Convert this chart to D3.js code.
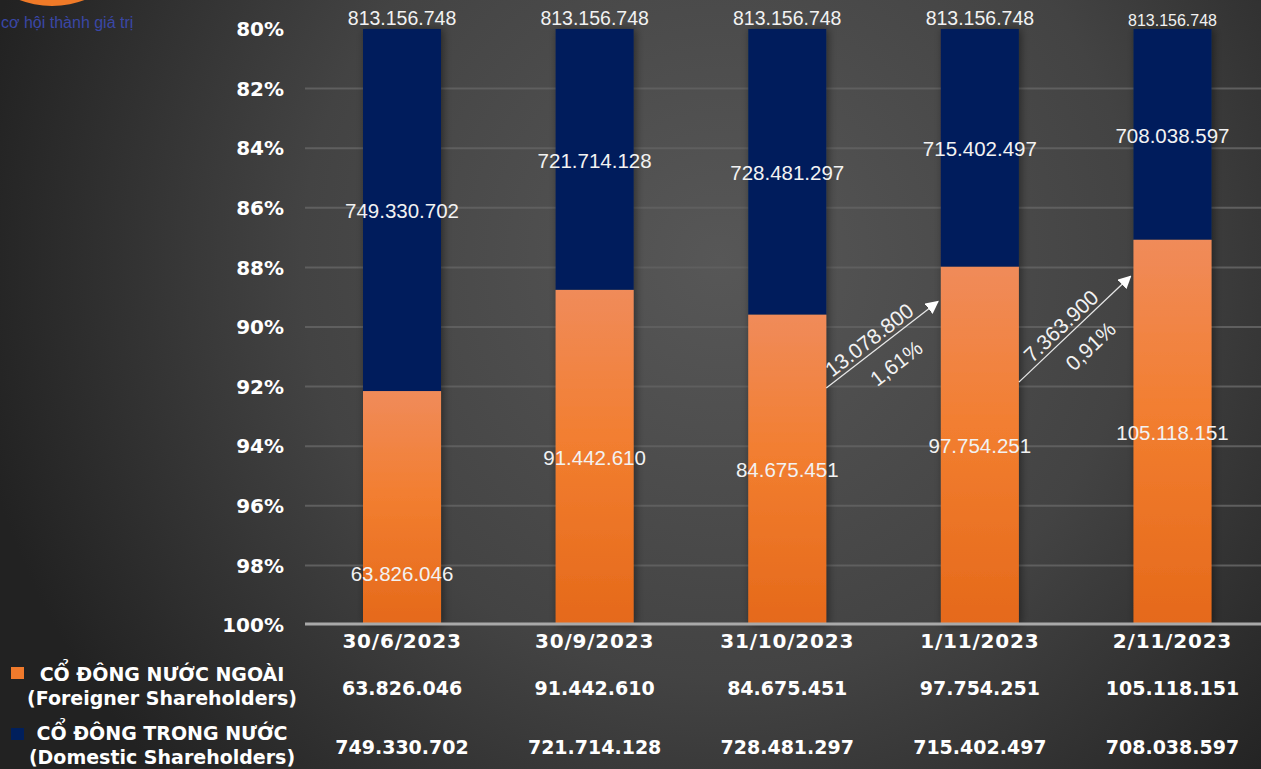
<!DOCTYPE html>
<html>
<head>
<meta charset="utf-8">
<script src="https://cdn.jsdelivr.net/npm/d3@7"></script>
<style>
  html, body { margin: 0; padding: 0; overflow: hidden; background: #333; }
</style>
</head>
<body>
<div id="chart"></div>
<script>
// Shareholder structure, foreign vs domestic
const dates = ["30/6/2023", "30/9/2023", "31/10/2023", "1/11/2023", "2/11/2023"];
const foreign = [63826046, 91442610, 84675451, 97754251, 105118151];
const domestic = [749330702, 721714128, 728481297, 715402497, 708038597];
const totalShares = 813156748; // printed above every bar
const yTicks = [80, 82, 84, 86, 88, 90, 92, 94, 96, 98, 100];
// change arrows between dates (axis % where the arrow starts / ends)
const arrows = [
    { from: 2, to: 3, y0: 92.05, y1: 89.15 },
    { from: 3, to: 4, y0: 91.85, y1: 88.3 }
];

const width = 1261;
const height = 769;

const vn = d3.formatLocale({ decimal: ",", thousands: ".", grouping: [3], currency: ["", ""] });
const fmtInt = vn.format(",d");
const fmtPct = vn.format(".2f");

const rows = dates.map((d, i) => ({
    date: d,
    domestic: domestic[i],
    foreign: foreign[i]
}));

const stack = d3.stack()
    .keys(["domestic", "foreign"])
    .offset(d3.stackOffsetExpand);
const series = stack(rows);

const x = d3.scaleBand()
    .domain(dates)
    .range([305.7, 1268.8])
    .paddingInner(0.595)
    .paddingOuter(0.2975);

// reversed percent axis: 80% at top, 100% at bottom
const y = d3.scaleLinear()
    .domain([80, 100])
    .range([29, 625])
    .clamp(true);

const svg = d3.select("#chart").append("svg")
    .attr("width", width)
    .attr("height", height)
    .style("display", "block");

const defs = svg.append("defs");

const bg = defs.append("radialGradient")
    .attr("id", "bg")
    .attr("gradientUnits", "userSpaceOnUse")
    .attr("cx", 720).attr("cy", 260).attr("r", 760);
bg.append("stop").attr("offset", "0%").attr("stop-color", "#575757");
bg.append("stop").attr("offset", "55%").attr("stop-color", "#434343");
bg.append("stop").attr("offset", "100%").attr("stop-color", "#222222");

const og = defs.append("linearGradient")
    .attr("id", "orange")
    .attr("x1", 0).attr("y1", 0).attr("x2", 0).attr("y2", 1);
og.append("stop").attr("offset", "0%").attr("stop-color", "#f08b5a");
og.append("stop").attr("offset", "45%").attr("stop-color", "#f27e30");
og.append("stop").attr("offset", "100%").attr("stop-color", "#e5691a");

const shadow = defs.append("filter")
    .attr("id", "shadow")
    .attr("x", "-30%").attr("y", "-5%").attr("width", "160%").attr("height", "110%");
shadow.append("feDropShadow")
    .attr("dx", 2).attr("dy", 0)
    .attr("stdDeviation", 4)
    .attr("flood-color", "#000")
    .attr("flood-opacity", 0.45);

const arrowHead = defs.append("marker")
    .attr("id", "arrowhead")
    .attr("viewBox", "0 0 10 10")
    .attr("refX", 9).attr("refY", 5)
    .attr("markerWidth", 13).attr("markerHeight", 13)
    .attr("markerUnits", "userSpaceOnUse")
    .attr("orient", "auto");
arrowHead.append("path")
    .attr("d", "M0,0 L10,5 L0,10 Z")
    .attr("fill", "#ffffff");

svg.append("rect")
    .attr("width", width)
    .attr("height", height)
    .attr("fill", "url(#bg)");

// logo remnant top-left
svg.append("circle")
    .attr("cx", 52).attr("cy", -85).attr("r", 91)
    .attr("fill", "#f07a28");
svg.append("text")
    .attr("x", 1).attr("y", 28)
    .style("font-family", "Liberation Sans, Arial, sans-serif")
    .style("font-size", "16px")
    .style("fill", "#3a47a6")
    .text("cơ hội thành giá trị");

// gridlines
svg.append("g")
    .selectAll("line")
    .data(yTicks.filter(t => t > 80 && t < 100))
    .join("line")
    .attr("x1", 305).attr("x2", width)
    .attr("y1", d => y(d)).attr("y2", d => y(d))
    .attr("stroke", "#5f5f5f")
    .attr("stroke-width", 2);

// y tick labels
svg.append("g")
    .selectAll("text")
    .data(yTicks)
    .join("text")
    .attr("x", 284)
    .attr("y", d => y(d))
    .attr("dy", "0.36em")
    .attr("text-anchor", "end")
    .style("font-family", "DejaVu Sans, Verdana, sans-serif")
    .style("font-weight", "bold")
    .style("font-size", "20px")
    .style("fill", "#ffffff")
    .text(d => d + "%");

// bars
const fills = { domestic: "#001f5c", foreign: "url(#orange)" };
const barG = svg.append("g").attr("filter", "url(#shadow)");
series.forEach(s => {
    barG.append("g")
        .selectAll("rect")
        .data(s)
        .join("rect")
        .attr("x", d => x(d.data.date))
        .attr("width", x.bandwidth())
        .attr("y", d => y(d[0] * 100))
        .attr("height", d => y(d[1] * 100) - y(d[0] * 100))
        .attr("fill", fills[s.key]);
});

// baseline
svg.append("line")
    .attr("x1", 305).attr("x2", width)
    .attr("y1", y(100) - 1).attr("y2", y(100) - 1)
    .attr("stroke", "#a9a9a9")
    .attr("stroke-width", 3);

const labelFont = "Liberation Sans, Arial, sans-serif";

// totals above bars
svg.append("g")
    .selectAll("text")
    .data(rows)
    .join("text")
    .attr("x", d => x(d.date) + x.bandwidth() / 2)
    .attr("y", (d, i) => i === 4 ? 20 : 18)
    .attr("dy", "0.36em")
    .attr("text-anchor", "middle")
    .style("font-family", labelFont)
    .style("font-size", (d, i) => i === 4 ? "16px" : "19.5px")
    .style("fill", "#f2f2f2")
    .text(() => fmtInt(totalShares));

// segment labels
const domS = series[0];
const forS = series[1];
svg.append("g")
    .selectAll("text")
    .data(domS)
    .join("text")
    .attr("x", d => x(d.data.date) + x.bandwidth() / 2)
    .attr("y", d => (y(d[0] * 100) + y(d[1] * 100)) / 2 + 1)
    .attr("dy", "0.36em")
    .attr("text-anchor", "middle")
    .style("font-family", labelFont)
    .style("font-size", "20.5px")
    .style("fill", "#f2f2f2")
    .text(d => fmtInt(d.data.domestic));

svg.append("g")
    .selectAll("text")
    .data(forS)
    .join("text")
    .attr("x", d => x(d.data.date) + x.bandwidth() / 2)
    .attr("y", (d, i) => {
        const top = y(d[0] * 100), bot = y(d[1] * 100);
        return i === 0 ? top + (bot - top) * 0.78 : (top + bot) / 2;
    })
    .attr("dy", "0.36em")
    .attr("text-anchor", "middle")
    .style("font-family", labelFont)
    .style("font-size", "20.5px")
    .style("fill", "#f2f2f2")
    .text(d => fmtInt(d.data.foreign));

// change arrows
arrows.forEach(a => {
    const x0 = x(dates[a.from]) + x.bandwidth();
    const x1 = x(dates[a.to]) - 3;
    const y0 = y(a.y0), y1 = y(a.y1);
    svg.append("line")
        .attr("x1", x0).attr("y1", y0)
        .attr("x2", x1).attr("y2", y1)
        .attr("stroke", "#e6e6e6")
        .attr("stroke-width", 1.3)
        .attr("marker-end", "url(#arrowhead)");

    const diff = foreign[a.to] - foreign[a.from];
    const pct = diff / totalShares * 100;
    const len = Math.hypot(x1 - x0, y1 - y0);
    const ux = (x1 - x0) / len, uy = (y1 - y0) / len;
    const nx = uy, ny = -ux; // normal pointing up-left
    const ang = Math.atan2(y1 - y0, x1 - x0) * 180 / Math.PI;
    const place = (t, k, txt) => {
        const px = x0 + ux * len * t + nx * k;
        const py = y0 + uy * len * t + ny * k;
        svg.append("text")
            .attr("transform", `translate(${px},${py}) rotate(${ang})`)
            .attr("dy", "0.36em")
            .attr("text-anchor", "middle")
            .style("font-family", labelFont)
            .style("font-size", "21px")
            .style("fill", "#f2f2f2")
            .text(txt);
    };
    place(0.45, 12, fmtInt(diff));
    place(0.5, -23, fmtPct(pct) + "%");
});

// x axis labels + table rows
const boldFont = "DejaVu Sans, Verdana, sans-serif";
const cx = d => x(d) + x.bandwidth() / 2;

svg.append("g")
    .selectAll("text")
    .data(dates)
    .join("text")
    .attr("x", d => cx(d))
    .attr("y", 641)
    .attr("dy", "0.36em")
    .attr("text-anchor", "middle")
    .style("font-family", boldFont)
    .style("font-weight", "bold")
    .style("font-size", "20px")
    .style("letter-spacing", "0.8px")
    .style("fill", "#ffffff")
    .text(d => d);

const tableRows = [
    { vals: foreign, y: 688 },
    { vals: domestic, y: 747 }
];
tableRows.forEach(r => {
    svg.append("g")
        .selectAll("text")
        .data(r.vals)
        .join("text")
        .attr("x", (d, i) => cx(dates[i]))
        .attr("y", r.y)
        .attr("dy", "0.36em")
        .attr("text-anchor", "middle")
        .style("font-family", boldFont)
        .style("font-weight", "bold")
        .style("font-size", "19px")
        .style("fill", "#ffffff")
        .text(d => fmtInt(d));
});

// legend
const legend = [
    { color: "#f07a2c", l1: "CỔ ĐÔNG NƯỚC NGOÀI", l2: "(Foreigner Shareholders)", y: 674, sq: 667 },
    { color: "#001f5c", l1: "CỔ ĐÔNG TRONG NƯỚC", l2: "(Domestic Shareholders)", y: 733, sq: 728 }
];
legend.forEach(l => {
    svg.append("rect")
        .attr("x", 11).attr("y", l.sq)
        .attr("width", 13).attr("height", 12)
        .attr("fill", l.color);
    [l.l1, l.l2].forEach((t, k) => {
        svg.append("text")
            .attr("x", 162)
            .attr("y", l.y + k * 24)
            .attr("dy", "0.36em")
            .attr("text-anchor", "middle")
            .style("font-family", boldFont)
            .style("font-weight", "bold")
            .style("font-size", "19px")
            .style("fill", "#ffffff")
            .text(t);
    });
});
</script>
</body>
</html>
